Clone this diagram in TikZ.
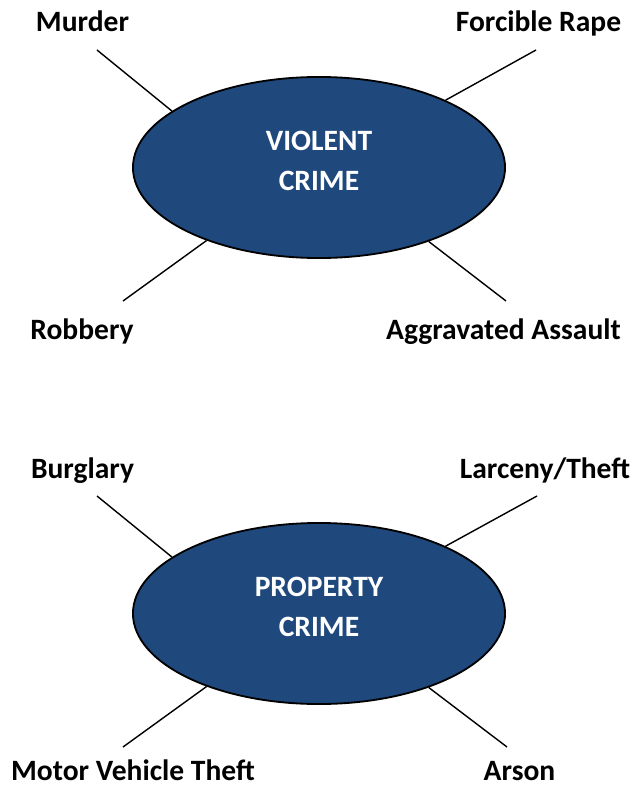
\documentclass[tikz,border=0pt]{standalone}
\usepackage{fontspec}
\setmainfont{Carlito}
\usetikzlibrary{shapes.geometric}
\definecolor{crimeblue}{HTML}{1F497D}

\begin{document}
\begin{tikzpicture}[x=0.025cm,y=-0.025cm,
  crime/.style={ellipse,draw=black,line width=1.3pt,fill=crimeblue,text=white,
    minimum width=9.3cm,minimum height=4.525cm,align=center,text depth=9pt,
    font=\fontsize{21}{28.5}\selectfont\bfseries},
  offense/.style={anchor=base,inner sep=0pt,font=\fontsize{21}{25}\selectfont\bfseries},
  spoke/.style={line width=1pt}]
\useasboundingbox (0,0) rectangle (636,788);

% the two groups
\node[crime] (violent) at (319,167.5) {VIOLENT\\CRIME};
\node[crime] (property) at (319,613.5) {PROPERTY\\CRIME};

% offences round violent crime
\node[offense] (murder) at (82.5,32) {Murder};
\node[offense] (rape) at (538.5,32) {Forcible Rape};
\node[offense] (robbery) at (82,339) {Robbery};
\node[offense] (assault) at (503.5,339) {Aggravated Assault};
\coordinate (murderend) at (97,50);
\coordinate (rapeend) at (536,50);
\coordinate (robberyend) at (123,301);
\coordinate (assaultend) at (506,301);

% offences round property crime
\node[offense] (burglary) at (82.5,478) {Burglary};
\node[offense] (larceny) at (545,478) {Larceny/Theft};
\node[offense] (vehicle) at (133,780) {Motor Vehicle Theft};
\node[offense] (arson) at (519.5,780) {Arson};
\coordinate (burglaryend) at (97,496);
\coordinate (larcenyend) at (537,496);
\coordinate (vehicleend) at (123,747);
\coordinate (arsonend) at (507,747);

\foreach \a/\e in {159/murderend, 28/rapeend, 213/robberyend, 326/assaultend}
    \draw[spoke] (violent.\a) -- (\e);
\foreach \a/\e in {159/burglaryend, 28/larcenyend, 213/vehicleend, 326/arsonend}
    \draw[spoke] (property.\a) -- (\e);

\end{tikzpicture}
\end{document}
